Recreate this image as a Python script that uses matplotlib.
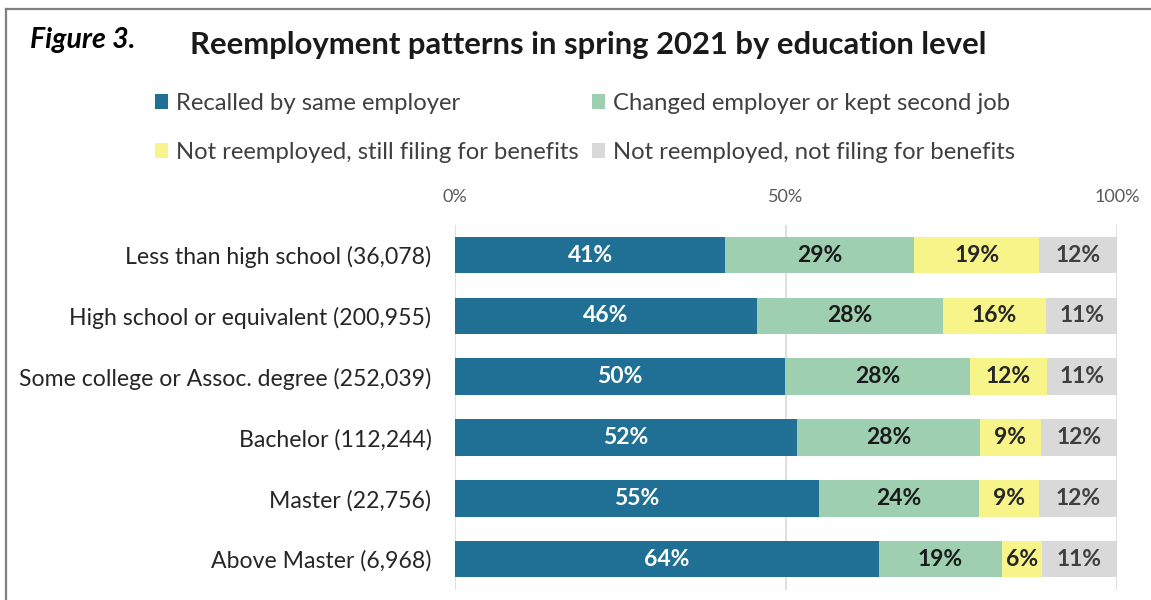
import numpy as np
import matplotlib.pyplot as plt
from matplotlib.lines import Line2D
from matplotlib.patches import Patch

plt.rcParams['font.family'] = ['Lato', 'DejaVu Sans']

# Education groups (claimant counts in parentheses), top to bottom
groups = ["Less than high school (36,078)",
          "High school or equivalent (200,955)",
          "Some college or Assoc. degree (252,039)",
          "Bachelor (112,244)",
          "Master (22,756)",
          "Above Master (6,968)"]

series_names = ["Recalled by same employer",
                "Changed employer or kept second job",
                "Not reemployed, still filing for benefits",
                "Not reemployed, not filing for benefits"]

# Shares in percent
recalled     = [40.8, 45.6, 49.9, 51.6, 55.0, 64.0]
changed      = [28.6, 28.1, 27.9, 27.7, 24.2, 18.6]
still_filing = [18.8, 15.6, 11.6,  9.2,  9.0,  6.0]
not_filing   = [11.8, 10.7, 10.6, 11.5, 11.8, 11.4]

colors = ["#1f7094", "#9dcfb0", "#f7f58a", "#d9d9d9"]
text_colors = ["white", "#1a1a1a", "#262626", "#3f3f3f"]

fig = plt.figure(figsize=(11.51, 6.0), dpi=100)
ax = fig.add_axes([455 / 1151, 10.4 / 600, 662 / 1151, 365 / 600])

y = np.arange(len(groups))
left = np.zeros(len(groups))
for vals, col, tcol in zip([recalled, changed, still_filing, not_filing], colors, text_colors):
    vals = np.array(vals)
    ax.barh(y, vals, left=left, height=0.6, color=col, zorder=2)
    for yi, l, v in zip(y, left, vals):
        ax.text(l + v / 2, yi, f"{v:.0f}%", ha="center", va="center",
                fontsize=16.5, fontweight="bold", color=tcol, zorder=3)
    left += vals

ax.set_xlim(0, 100)
ax.set_ylim(len(groups) - 0.5, -0.5)
ax.set_xticks([0, 50, 100])
ax.set_xticklabels(["0%", "50%", "100%"])
ax.xaxis.tick_top()
ax.tick_params(axis="x", length=0, pad=14, labelsize=13, labelcolor="#595959")
ax.set_yticks(y)
ax.set_yticklabels(groups)
ax.tick_params(axis="y", length=0, pad=17, labelsize=16.6, labelcolor="#262626")
ax.grid(axis="x", color="#d9d9d9", linewidth=1.2, zorder=0)
for s in ax.spines.values():
    s.set_visible(False)

# titles
fig.text(30 / 1151, 1 - 40 / 600, "Figure 3.", fontsize=20.5, fontweight="bold",
         fontstyle="italic", va="center", ha="left", color="black")
fig.text(190 / 1151, 1 - 45 / 600, "Reemployment patterns in spring 2021 by education level",
         fontsize=22.3, fontweight="bold", va="center", ha="left", color="#1a1a1a")

# legend, two rows of two (matplotlib fills column-wise)
handles = [Patch(facecolor=c, edgecolor="none") for c in colors]
order = [0, 2, 1, 3]
leg = fig.legend([handles[i] for i in order], [series_names[i] for i in order],
                 ncol=2, loc="upper left",
                 bbox_to_anchor=(155 / 1151, 1 - 93 / 600), frameon=False,
                 borderpad=0, borderaxespad=0,
                 fontsize=17.2, handlelength=0.55, handleheight=0.55, handletextpad=0.33,
                 columnspacing=0.55, labelspacing=1.17, labelcolor="#404040")

# frame around the figure (top and left edges)
fig.add_artist(Line2D([6 / 1151, 1], [1 - 8.5 / 600, 1 - 8.5 / 600], color="#808080",
                      linewidth=1.6, transform=fig.transFigure))
fig.add_artist(Line2D([6 / 1151, 6 / 1151], [0, 1 - 8.5 / 600], color="#808080",
                      linewidth=1.6, transform=fig.transFigure))

fig.savefig("out.png", dpi=100, facecolor="white")
